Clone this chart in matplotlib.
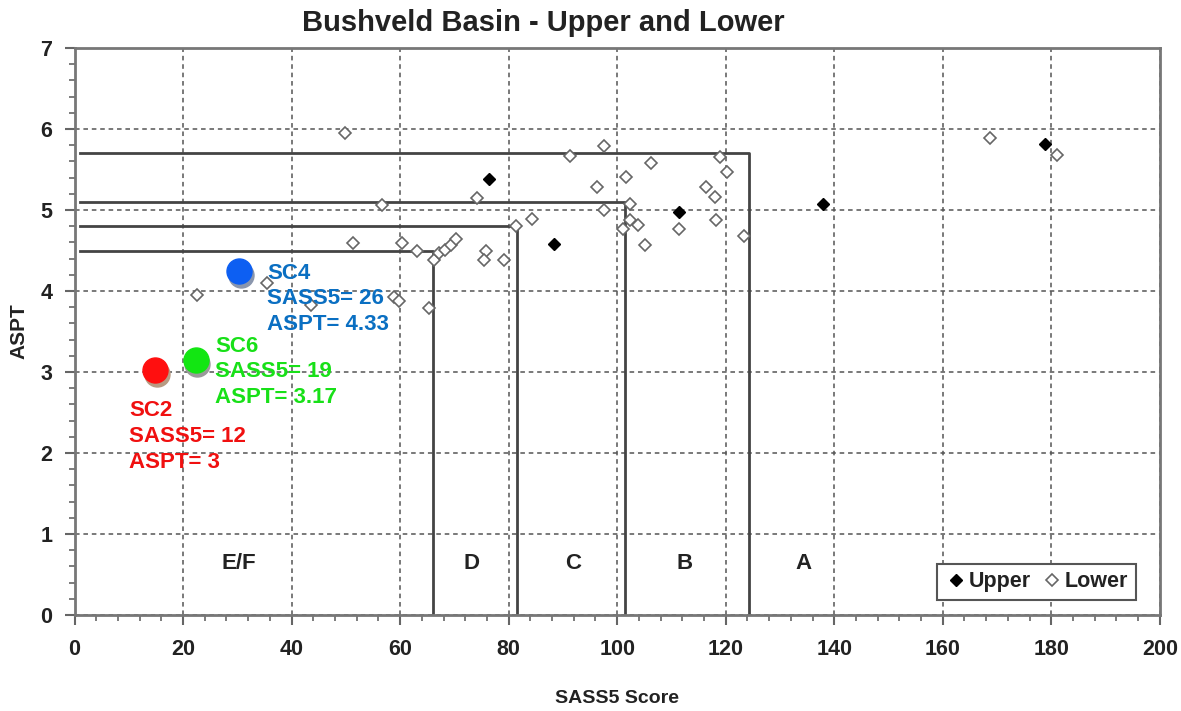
import numpy as np
import matplotlib.pyplot as plt
from matplotlib.ticker import MultipleLocator

# upper sites (filled diamonds)
upper_sass = [76.3, 88.3, 111.3, 138.0, 178.9]
upper_aspt = [5.38, 4.58, 4.98, 5.07, 5.82]

# lower sites (open diamonds)
lower_sass = [49.8, 91.3, 97.5, 106.3, 118.9, 120.2, 101.7, 96.3, 116.3, 118.0,
              74.1, 56.7, 97.6, 102.3, 84.3, 81.4, 102.3, 103.8, 101.1, 111.3,
              118.2, 123.3, 105.2, 51.4, 60.4, 63.2, 66.2, 67.1, 68.2, 69.3,
              70.3, 75.8, 75.4, 79.2, 58.9, 59.8, 65.4, 22.5, 35.4, 43.6,
              168.7, 181.0]
lower_aspt = [5.95, 5.67, 5.79, 5.58, 5.65, 5.47, 5.41, 5.28, 5.28, 5.16,
              5.15, 5.06, 5.00, 5.08, 4.89, 4.80, 4.88, 4.82, 4.77, 4.77,
              4.88, 4.68, 4.57, 4.59, 4.59, 4.49, 4.38, 4.47, 4.51, 4.57,
              4.64, 4.49, 4.38, 4.38, 3.93, 3.88, 3.79, 3.95, 4.10, 3.83,
              5.89, 5.68]

# class boundaries: (aspt level, sass limit)
bound_aspt = [4.5, 4.8, 5.1, 5.7]
bound_sass = [66.0, 81.5, 101.5, 124.2]

class_names = ["E/F", "D", "C", "B", "A"]
class_x = [30.3, 73.2, 91.9, 112.5, 134.3]

# sampled sites
sites = ["SC2", "SC6", "SC4"]
site_sass = [14.8, 22.3, 30.4]
site_aspt = [3.02, 3.15, 4.25]
site_label_sass = [12, 19, 26]
site_label_aspt = ["3", "3.17", "4.33"]
site_colors = ["#ff0f0f", "#12e612", "#0d5ff2"]
shadow_colors = ["#b89a82", "#9a9a9a", "#8a96ad"]
text_colors = ["#f01010", "#18e018", "#0a6fc2"]
text_pos = [(10.1, 2.53), (25.9, 3.33), (35.5, 4.23)]

plt.rcParams['font.family'] = ['Liberation Sans', 'DejaVu Sans']
plt.rcParams['font.weight'] = 'bold'

fig = plt.figure(figsize=(11.81, 7.11), dpi=100)
ax = fig.add_axes([0.0631, 0.135, 0.919, 0.7975])

ax.set_xlim(0, 200)
ax.set_ylim(0, 7)
ax.xaxis.set_major_locator(MultipleLocator(20))
ax.xaxis.set_minor_locator(MultipleLocator(4))
ax.yaxis.set_major_locator(MultipleLocator(1))
ax.yaxis.set_minor_locator(MultipleLocator(0.2))
ax.grid(True, which='major', linestyle=(0, (3, 2.5)), color='#555555', linewidth=1.1)
ax.set_axisbelow(True)
for s in ax.spines.values():
    s.set_color('#777777')
    s.set_linewidth(2)
ax.tick_params(which='major', direction='out', length=7, width=1.5, color='#666666',
               labelsize=15.5)
ax.tick_params(axis='x', which='major', pad=10)
ax.tick_params(axis='y', which='major', pad=9)
ax.tick_params(which='minor', direction='out', length=4, width=1.2, color='#666666')
for lab in ax.get_xticklabels() + ax.get_yticklabels():
    lab.set_fontweight('bold')
    lab.set_color('#222222')

# boundary step lines
for a, b in zip(bound_aspt, bound_sass):
    ax.plot([1, b, b], [a, a, 0], color='#444444', linewidth=2, zorder=2)

ax.plot(upper_sass, upper_aspt, 'D', color='black', markersize=6, linestyle='none',
        label='Upper', zorder=3)
ax.plot(lower_sass, lower_aspt, 'D', markerfacecolor='white', markeredgecolor='#666666',
        markeredgewidth=1.2, markersize=6.5, linestyle='none', label='Lower', zorder=3)

for name, xx in zip(class_names, class_x):
    ax.text(xx, 0.64, name, ha='center', va='center', fontsize=16, fontweight='bold',
            color='#222222')

for i in range(len(sites)):
    ax.plot(site_sass[i] + 0.35, site_aspt[i] - 0.05, 'o', markersize=18,
            color=shadow_colors[i], zorder=4)
    ax.plot(site_sass[i], site_aspt[i], 'o', markersize=18, color=site_colors[i], zorder=5)
    txt = "%s\nSASS5= %d\nASPT= %s" % (sites[i], site_label_sass[i], site_label_aspt[i])
    ax.text(text_pos[i][0], text_pos[i][1] + 0.12, txt, ha='left', va='top', fontsize=16,
            fontweight='bold', color=text_colors[i], linespacing=1.3, zorder=6)

leg = ax.legend(loc='lower right', ncol=2, fontsize=15.5, handletextpad=0.1,
                columnspacing=0.5, handlelength=1.0, borderpad=0.35, borderaxespad=0,
                bbox_to_anchor=(0.978, 0.027), fancybox=False, framealpha=1)
leg.get_frame().set_edgecolor('#555555')
leg.get_frame().set_linewidth(1.5)
for t in leg.get_texts():
    t.set_fontweight('bold')
    t.set_color('#222222')

ax.set_xlabel("SASS5 Score", fontsize=14, fontweight='bold', color='#222222')
ax.set_ylabel("ASPT", fontsize=15, fontweight='bold', color='#222222')
ax.xaxis.set_label_coords(0.5, -0.133)
ax.yaxis.set_label_coords(-0.042, 0.5)
fig.text(0.46, 0.968, "Bushveld Basin - Upper and Lower", ha='center', va='center',
         fontsize=21, fontweight='bold', color='#222222')

fig.savefig("out.png", dpi=100)
